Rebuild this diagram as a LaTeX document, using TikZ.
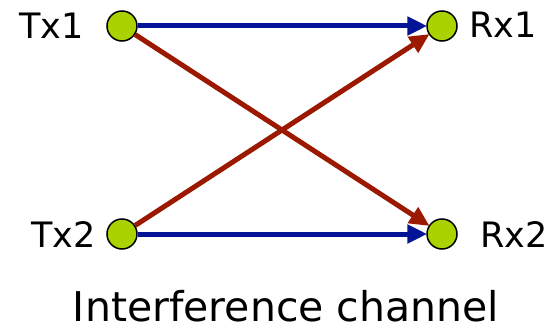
\documentclass[tikz,border=0pt]{standalone}
\usepackage{fontspec}
\setmainfont{DejaVu Sans}
\usetikzlibrary{arrows.meta}
\definecolor{lblue}{RGB}{5,20,150}
\definecolor{lred}{RGB}{155,25,0}
\definecolor{lgreen}{RGB}{170,210,0}
\begin{document}
\begin{tikzpicture}[x=1pt,y=-1pt,
  term/.style={circle,draw=black,line width=1.5pt,fill=lgreen,minimum size=30pt,inner sep=0pt},
  lab/.style={font=\fontsize{35}{40}\selectfont,inner sep=0pt},
  direct/.style={draw=lblue,line width=5pt,-{Triangle[length=20pt,width=18pt]},shorten >=-1pt},
  cross/.style={draw=lred,line width=5pt,-{Triangle[length=20pt,width=18pt]},shorten >=-1pt}]
\useasboundingbox (0,0) rectangle (552,329);
\node[term] (tx1) at (122,26) {};
\node[term] (rx1) at (442,26) {};
\node[term] (tx2) at (122,234) {};
\node[term] (rx2) at (442,234) {};
\node[lab,anchor=base east] (ltx1) at (84,39) {Tx1};
\node[lab,anchor=base west] (lrx1) at (469,38) {Rx1};
\node[lab,anchor=base east] (ltx2) at (96,247) {Tx2};
\node[lab,anchor=base west] (lrx2) at (480,247) {Rx2};
\node[font=\fontsize{41}{46}\selectfont,inner sep=0pt,anchor=base] (title) at (286,321) {Interference channel};
\draw[direct] (tx1) -- (rx1);
\draw[direct] (tx2) -- (rx2);
\draw[cross] (tx1) -- (rx2);
\draw[cross] (tx2) -- (rx1);
\end{tikzpicture}
\end{document}
